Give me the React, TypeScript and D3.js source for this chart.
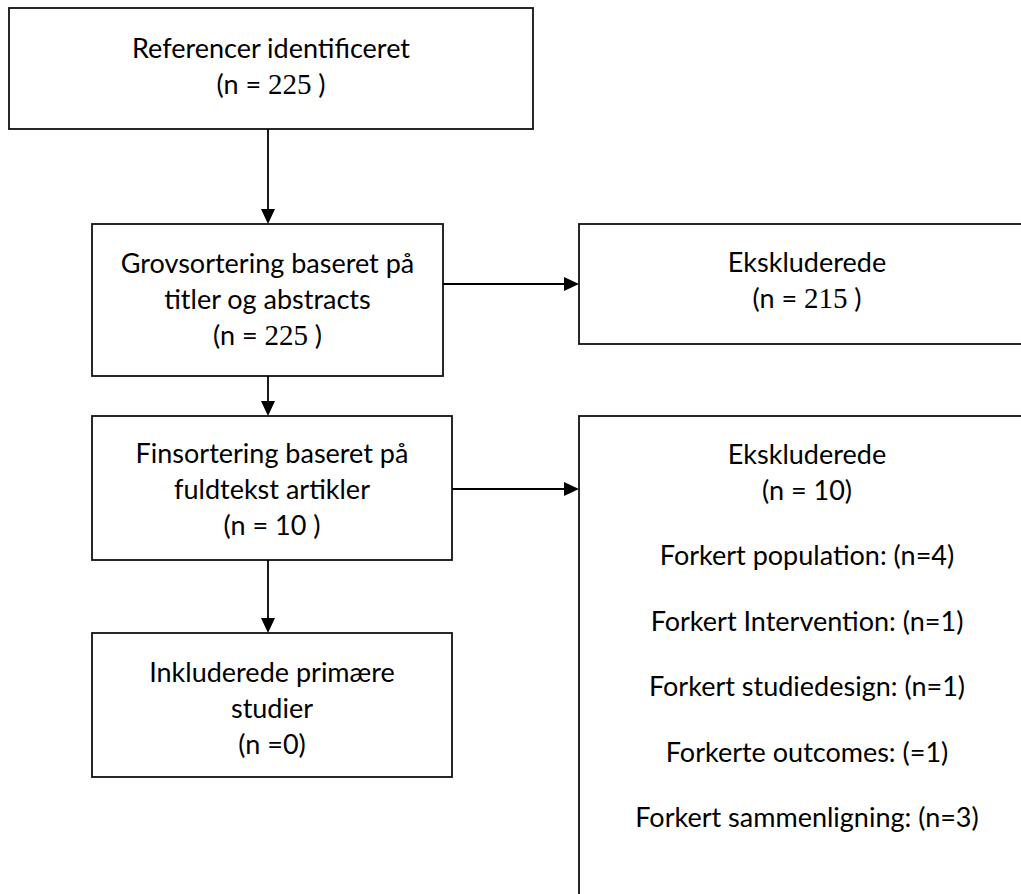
import React from "react";
import * as d3 from "d3";

// ---- content ----
const stageLines: string[][] = [
  ["Referencer identificeret"],
  ["Grovsortering baseret på", "titler og abstracts"],
  ["Finsortering baseret på", "fuldtekst artikler"],
  ["Inkluderede primære", "studier"],
];
// count segments: [text, serif?]
const stageCounts: [string, boolean][][] = [
  [["(n = ", false], ["225", true], [" )", false]],
  [["(n = ", false], ["225", true], [" )", false]],
  [["(n = 10 )", false]],
  [["(n =0)", false]],
];
const exclTitles = ["Ekskluderede", "Ekskluderede"];
const exclCounts: [string, boolean][][] = [
  [["(n = ", false], ["215", true], [" )", false]],
  [["(n = 10)", false]],
];
const exclReasons = [
  "Forkert population: (n=4)",
  "Forkert Intervention: (n=1)",
  "Forkert studiedesign: (n=1)",
  "Forkerte outcomes: (=1)",
  "Forkert sammenligning: (n=3)",
];

const W = 1021;
const H = 894;
const FONT = "Lato, 'Open Sans', sans-serif";
const SERIF = "'Liberation Serif', 'Times New Roman', serif";
const FS = 27;
const LH = 36;

type Box = { x: number; y: number; w: number; h: number };

export default function App() {
  // layout
  const mainBoxes: Box[] = [
    { x: 9, y: 8, w: 524, h: 121 },
    { x: 92, y: 224, w: 351, h: 152 },
    { x: 92, y: 416, w: 360, h: 144 },
    { x: 92, y: 633, w: 360, h: 144 },
  ];
  const firstOffset = [50, 49, 47, 49];
  const exclBoxes: Box[] = [
    { x: 579, y: 224, w: 456, h: 120 },
    { x: 579, y: 416, w: 456, h: 540 },
  ];
  const arrowX = 268;
  const line = d3.line<[number, number]>();

  const vArrows = [0, 1, 2].map((i) => ({
    x1: arrowX,
    y1: mainBoxes[i].y + mainBoxes[i].h,
    x2: arrowX,
    y2: mainBoxes[i + 1].y,
  }));
  const hArrowY = [284, 489];
  const hArrows = [1, 2].map((bi, k) => ({
    x1: mainBoxes[bi].x + mainBoxes[bi].w,
    y1: hArrowY[k],
    x2: exclBoxes[k].x,
    y2: hArrowY[k],
  }));

  const head = 15;
  const half = 7;

  const renderSegs = (segs: [string, boolean][]) =>
    segs.map(([t, serif], i) => (
      <tspan key={i} fontFamily={serif ? SERIF : FONT} fontSize={serif ? 29 : FS}>
        {t}
      </tspan>
    ));

  return (
    <svg
      width={W}
      height={H}
      style={{ position: "absolute", left: 0, top: 0, background: "#fff" }}
      fontFamily={FONT}
      fontSize={FS}
    >
      <rect x={0} y={0} width={W} height={H} fill="#fff" />
      {[...mainBoxes, ...exclBoxes].map((b, i) => (
        <rect key={i} x={b.x} y={b.y} width={b.w} height={b.h} fill="#fff" stroke="#111" strokeWidth={1.8} />
      ))}

      {vArrows.map((a, i) => (
        <g key={"v" + i}>
          <path d={line([[a.x1, a.y1], [a.x2, a.y2 - head]]) || ""} stroke="#000" strokeWidth={1.8} fill="none" />
          <path
            d={line([[a.x2 - half, a.y2 - head], [a.x2 + half, a.y2 - head], [a.x2, a.y2]]) + "Z"}
            fill="#000"
          />
        </g>
      ))}
      {hArrows.map((a, i) => (
        <g key={"h" + i}>
          <path d={line([[a.x1, a.y1], [a.x2 - head, a.y2]]) || ""} stroke="#000" strokeWidth={1.8} fill="none" />
          <path
            d={line([[a.x2 - head, a.y2 - half], [a.x2 - head, a.y2 + half], [a.x2, a.y2]]) + "Z"}
            fill="#000"
          />
        </g>
      ))}

      {mainBoxes.map((b, i) => {
        const cx = b.x + b.w / 2;
        const lines = stageLines[i];
        return (
          <g key={"t" + i} textAnchor="middle" fill="#000">
            {lines.map((l, j) => (
              <text key={j} x={cx} y={b.y + firstOffset[i] + j * LH}>
                {l}
              </text>
            ))}
            <text x={cx} y={b.y + firstOffset[i] + lines.length * LH}>
              {renderSegs(stageCounts[i])}
            </text>
          </g>
        );
      })}

      {exclBoxes.map((b, i) => {
        const cx = 807;
        const y0 = b.y + 48;
        return (
          <g key={"e" + i} textAnchor="middle" fill="#000">
            <text x={cx} y={y0}>{exclTitles[i]}</text>
            <text x={cx} y={y0 + LH}>{renderSegs(exclCounts[i])}</text>
            {i === 1 &&
              exclReasons.map((r, k) => (
                <text key={k} x={cx} y={565 + k * 65.5}>
                  {r}
                </text>
              ))}
          </g>
        );
      })}
    </svg>
  );
}
